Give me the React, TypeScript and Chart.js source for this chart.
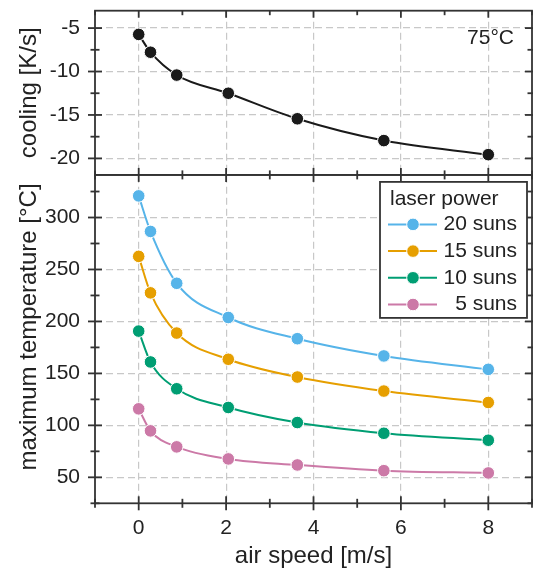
import React, { useEffect, useRef } from "react";
import { Chart, registerables } from "chart.js";
Chart.register(...registerables);

// ---- data ----
const airSpeed = [0, 0.27, 0.87, 2.05, 3.63, 5.61, 8.0];
const cooling = [-5.73, -7.78, -10.41, -12.5, -15.44, -17.95, -19.57];
const temp20 = [320.8, 286.6, 236.7, 203.8, 183.4, 166.8, 153.9];
const temp15 = [262.6, 227.5, 188.8, 163.6, 146.5, 133.0, 122.0];
const temp10 = [190.7, 161.0, 135.2, 117.2, 102.7, 92.4, 85.7];
const temp5 = [115.9, 94.7, 79.3, 67.7, 61.9, 56.4, 54.2];
const seriesLabels = ["20 suns", "15 suns", "10 suns", "5 suns"];
const seriesColors = ["#56B4E9", "#E69F00", "#009E73", "#CC79A7"];
const legendTitle = "laser power";
const panelNote = "75°C";
const xTitle = "air speed [m/s]";
const coolingTitle = "cooling [K/s]";
const tempTitle = "maximum temperature [°C]";

const xMajorTicks = [0, 2, 4, 6, 8];
const xMinorTicks = [-1, 1, 3, 5, 7, 9];
const coolingTicks = [-20, -15, -10, -5];
const coolingMinorTicks = [-17.5, -12.5, -7.5];
const tempTicks = [50, 100, 150, 200, 250, 300];
const tempMinorTicks = [25, 75, 125, 175, 225, 275, 325];

const FONT = "'Liberation Sans', Arial, Helvetica, sans-serif";
const TEXT = "#222";
const FRAME = "#333";

const overlayPlugin = {
  id: "overlay",
  afterDraw(chart: any) {
    const ctx = chart.ctx;
    const { left, right } = chart.chartArea;
    const xs = chart.scales.x;
    const yTop = chart.scales.yTop;
    const yBot = chart.scales.yBot;
    const line = (x1: number, y1: number, x2: number, y2: number) => {
      ctx.beginPath();
      ctx.moveTo(x1, y1);
      ctx.lineTo(x2, y2);
      ctx.stroke();
    };
    ctx.save();
    ctx.strokeStyle = FRAME;
    ctx.lineWidth = 1.8;
    [yTop, yBot].forEach((s: any) => ctx.strokeRect(left, s.top, right - left, s.bottom - s.top));
    const yt = (s: any, vals: number[], len: number) =>
      vals.forEach((v) => {
        const py = s.getPixelForValue(v);
        line(left - len, py, left + len, py);
        line(right - len, py, right + len, py);
      });
    yt(yTop, coolingTicks, 7);
    yt(yTop, coolingMinorTicks, 4.5);
    yt(yBot, tempTicks, 7);
    yt(yBot, tempMinorTicks, 4.5);
    const borders = [
      { y: yTop.top, up: false },
      { y: yTop.bottom, up: true },
      { y: yBot.bottom, up: true },
    ];
    const xt = (vals: number[], len: number) =>
      vals.forEach((v) => {
        const px = xs.getPixelForValue(v);
        borders.forEach((b) => line(px, b.up ? b.y - len : b.y, px, b.y + len));
      });
    xt(xMajorTicks, 7);
    xt(xMinorTicks, 4.5);

    // y axis titles
    ctx.fillStyle = TEXT;
    ctx.font = `24px ${FONT}`;
    ctx.textAlign = "center";
    ctx.textBaseline = "middle";
    const vTitle = (t: string, cx: number, cy: number) => {
      ctx.save();
      ctx.translate(cx, cy);
      ctx.rotate(-Math.PI / 2);
      ctx.fillText(t, 0, 0);
      ctx.restore();
    };
    vTitle(coolingTitle, 29, (yTop.top + yTop.bottom) / 2);
    vTitle(tempTitle, 29, yBot.top + 152);

    // panel note
    ctx.font = `21px ${FONT}`;
    ctx.textAlign = "right";
    ctx.fillText(panelNote, right - 18, yTop.top + 28);

    // legend
    const w = 147;
    const h = 136;
    const lx = right - 5 - w;
    const ly = yBot.top + 7;
    ctx.fillStyle = "#fff";
    ctx.fillRect(lx, ly, w, h);
    ctx.strokeStyle = FRAME;
    ctx.lineWidth = 1.8;
    ctx.strokeRect(lx, ly, w, h);
    ctx.fillStyle = TEXT;
    ctx.textAlign = "left";
    ctx.fillText(legendTitle, lx + 10, ly + 17);
    chart.data.datasets.slice(1).forEach((ds: any, i: number) => {
      const cy = ly + 42.5 + i * 26.7;
      ctx.strokeStyle = ds.borderColor;
      ctx.lineWidth = 2;
      line(lx + 8, cy, lx + 57, cy);
      ctx.beginPath();
      ctx.arc(lx + 33, cy, 6.3, 0, Math.PI * 2);
      ctx.fillStyle = ds.borderColor;
      ctx.fill();
      ctx.strokeStyle = "#fff";
      ctx.lineWidth = 1;
      ctx.stroke();
      ctx.fillStyle = TEXT;
      ctx.textAlign = "right";
      ctx.fillText(ds.label, lx + 137, cy);
    });
    ctx.restore();
  },
};

export default function App() {
  const ref = useRef<HTMLCanvasElement>(null);
  useEffect(() => {
    const canvas = ref.current!;
    const mk = (vals: number[], label: string, color: string, axis: string) => ({
      label,
      data: airSpeed.map((x, i) => ({ x, y: vals[i] })),
      yAxisID: axis,
      borderColor: color,
      backgroundColor: color,
      pointBackgroundColor: color,
      pointBorderColor: "#fff",
      pointBorderWidth: 1,
      pointRadius: 6.3,
      borderWidth: 2,
      cubicInterpolationMode: "monotone" as const,
      fill: false,
    });
    const temps = [temp20, temp15, temp10, temp5];
    const gridOpts = { color: "#c8c8c8", lineWidth: 1.2, drawTicks: false };
    const borderOpts = { display: false, dash: [7, 4] };
    const tickFont = { family: FONT, size: 21 };
    const fitY = (s: any) => {
      s.width = 95;
      s.paddingTop = 0;
      s.paddingBottom = 0;
    };
    const chart = new Chart(canvas, {
      type: "line",
      data: {
        datasets: [
          mk(cooling, "cooling", "#1a1a1a", "yTop"),
          ...temps.map((t, i) => mk(t, seriesLabels[i], seriesColors[i], "yBot")),
        ],
      },
      options: {
        responsive: false,
        animation: false,
        layout: { autoPadding: false, padding: { top: 10.7, right: 1, left: 0, bottom: 0 } },
        plugins: { legend: { display: false }, tooltip: { enabled: false } },
        scales: {
          x: {
            type: "linear",
            min: -1,
            max: 9,
            afterBuildTicks: (s: any) => {
              s.ticks = xMajorTicks.map((v) => ({ value: v }));
            },
            afterFit: (s: any) => {
              s.height = 70.7;
              s.paddingLeft = 0;
              s.paddingRight = 0;
            },
            grid: gridOpts,
            border: borderOpts,
            ticks: { font: tickFont, color: TEXT, padding: 12, autoSkip: false, maxRotation: 0 },
            title: {
              display: true,
              text: xTitle,
              font: { family: FONT, size: 24 },
              color: TEXT,
              padding: { top: 0, bottom: 3 },
            },
          },
          yBot: {
            type: "linear",
            position: "left",
            stack: "v",
            stackWeight: 2,
            min: 25,
            max: 341,
            afterBuildTicks: (s: any) => {
              s.ticks = tempTicks.map((v) => ({ value: v }));
            },
            afterFit: fitY,
            grid: gridOpts,
            border: borderOpts,
            ticks: { font: tickFont, color: TEXT, padding: 15, autoSkip: false },
          },
          yTop: {
            type: "linear",
            position: "left",
            stack: "v",
            stackWeight: 1,
            min: -21.9,
            max: -3,
            afterBuildTicks: (s: any) => {
              s.ticks = coolingTicks.map((v) => ({ value: v }));
            },
            afterFit: fitY,
            grid: gridOpts,
            border: borderOpts,
            ticks: { font: tickFont, color: TEXT, padding: 15, autoSkip: false },
          },
        },
      } as any,
      plugins: [overlayPlugin],
    });
    return () => chart.destroy();
  }, []);
  return (
    <div style={{ position: "fixed", left: 0, top: 0, width: 533, height: 574, background: "#fff" }}>
      <canvas ref={ref} width={533} height={574} style={{ display: "block" }} />
    </div>
  );
}
